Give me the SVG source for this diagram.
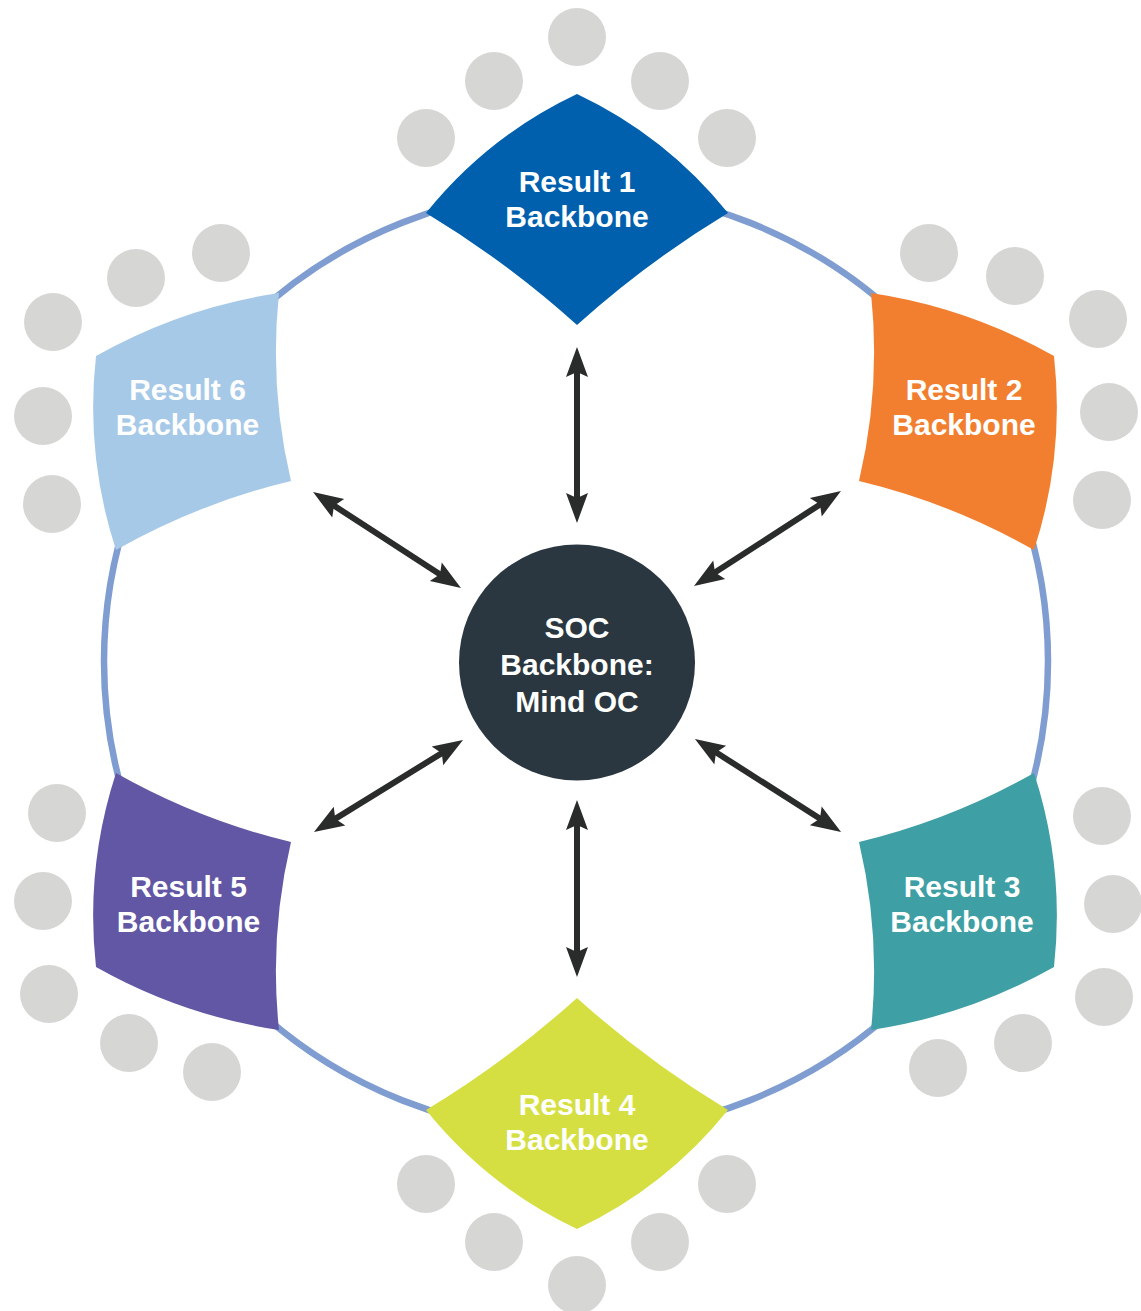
<svg xmlns="http://www.w3.org/2000/svg" width="1141" height="1311" viewBox="0 0 1141 1311">
<style>
.dot{fill:#d6d6d4}
.lbl{font-family:"Liberation Sans",Arial,sans-serif;font-weight:700;font-size:30px;fill:#ffffff;text-anchor:middle}
.arr{stroke:#2a2c2c;stroke-width:6;fill:none;marker-start:url(#ah);marker-end:url(#ah)}
</style>
<defs>
<marker id="ah" markerUnits="userSpaceOnUse" markerWidth="30" markerHeight="22" refX="8" refY="11" orient="auto-start-reverse" overflow="visible">
<path d="M30,11 L0,0 L5,11 L0,22 Z" fill="#2a2c2c"/>
</marker>
</defs>
<rect width="1141" height="1311" fill="#ffffff"/>
<g id="ring">
<circle cx="576" cy="661.5" r="472" fill="none" stroke="#7f9dd1" stroke-width="6.5"/>
</g>
<g id="dots">
<circle class="dot" cx="577" cy="37" r="29"/><circle class="dot" cx="494" cy="81" r="29"/><circle class="dot" cx="660" cy="81" r="29"/><circle class="dot" cx="426" cy="138" r="29"/><circle class="dot" cx="727" cy="138" r="29"/>
<circle class="dot" cx="577" cy="1285" r="29"/><circle class="dot" cx="494" cy="1242" r="29"/><circle class="dot" cx="660" cy="1242" r="29"/><circle class="dot" cx="426" cy="1184" r="29"/><circle class="dot" cx="727" cy="1184" r="29"/>
<circle class="dot" cx="929" cy="253" r="29"/><circle class="dot" cx="1015" cy="276" r="29"/><circle class="dot" cx="1098" cy="319" r="29"/><circle class="dot" cx="1109" cy="412" r="29"/><circle class="dot" cx="1102" cy="500" r="29"/>
<circle class="dot" cx="221" cy="253" r="29"/><circle class="dot" cx="136" cy="278" r="29"/><circle class="dot" cx="53" cy="322" r="29"/><circle class="dot" cx="43" cy="416" r="29"/><circle class="dot" cx="52" cy="504" r="29"/>
<circle class="dot" cx="1102" cy="816" r="29"/><circle class="dot" cx="1113" cy="904" r="29"/><circle class="dot" cx="1104" cy="997" r="29"/><circle class="dot" cx="1023" cy="1043" r="29"/><circle class="dot" cx="938" cy="1068" r="29"/>
<circle class="dot" cx="57" cy="813" r="29"/><circle class="dot" cx="43" cy="901" r="29"/><circle class="dot" cx="49" cy="994" r="29"/><circle class="dot" cx="129" cy="1043" r="29"/><circle class="dot" cx="212" cy="1072" r="29"/>
</g>
<g id="connectors">
<line class="arr" x1="577" y1="369" x2="577" y2="501"/>
<line class="arr" x1="577" y1="822" x2="577" y2="955"/>
<line class="arr" x1="331.5" y1="504" x2="442.5" y2="576"/>
<line class="arr" x1="822.5" y1="502.9" x2="712.5" y2="574.1"/>
<line class="arr" x1="332.7" y1="820.4" x2="444.3" y2="751.6"/>
<line class="arr" x1="822.5" y1="820.2" x2="713.5" y2="750.8"/>
</g>
<g id="node1">
<path d="M577,94 Q666,136 728,213 Q647,262 577,325 Q507,262 426,213 Q488,136 577,94 Z" fill="#0060ad"/>
<text class="lbl" x="577" y="192">Result 1</text><text class="lbl" x="577" y="227">Backbone</text>
</g>
<g id="node2">
<path d="M871,293 Q968,307.5 1054,356 Q1065,455 1034,550 Q951,503 859,481 Q881,388 871,293 Z" fill="#f27f2f"/>
<text class="lbl" x="964" y="400">Result 2</text><text class="lbl" x="964" y="435">Backbone</text>
</g>
<g id="node3">
<path d="M871,1030 Q968,1015.5 1054,967 Q1065,868 1034,773 Q951,820 859,842 Q881,935 871,1030 Z" fill="#3e9fa4"/>
<text class="lbl" x="962" y="897">Result 3</text><text class="lbl" x="962" y="932">Backbone</text>
</g>
<g id="node4">
<path d="M577,1229 Q666,1187 728,1110 Q647,1061 577,998 Q507,1061 426,1110 Q488,1187 577,1229 Z" fill="#d5df41"/>
<text class="lbl" x="577" y="1115">Result 4</text><text class="lbl" x="577" y="1150">Backbone</text>
</g>
<g id="node5">
<path d="M279,1030 Q182,1015.5 96,967 Q85,868 116,773 Q199,820 291,842 Q269,935 279,1030 Z" fill="#6257a4"/>
<text class="lbl" x="188.5" y="897">Result 5</text><text class="lbl" x="188.5" y="932">Backbone</text>
</g>
<g id="node6">
<path d="M279,293 Q182,307.5 96,356 Q85,455 116,550 Q199,503 291,481 Q269,388 279,293 Z" fill="#a7c9e8"/>
<text class="lbl" x="187.5" y="400">Result 6</text><text class="lbl" x="187.5" y="435">Backbone</text>
</g>
<g id="center">
<circle cx="577" cy="662.5" r="118" fill="#2b3740"/>
<text class="lbl" x="577" y="638">SOC</text><text class="lbl" x="577" y="675">Backbone:</text><text class="lbl" x="577" y="712">Mind OC</text>
</g>
</svg>
